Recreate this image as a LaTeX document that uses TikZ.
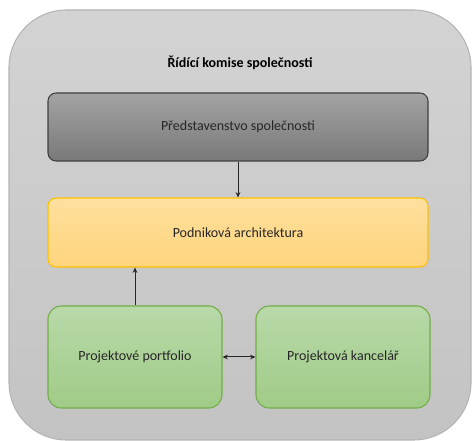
\documentclass[tikz,border=0pt]{standalone}
\usepackage{fontspec}
\setmainfont{Carlito}
\usetikzlibrary{arrows.meta,positioning}

\definecolor{outerFill}{HTML}{D3D3D3}
\definecolor{outerFillB}{HTML}{C3C3C3}
\definecolor{outerLine}{HTML}{B4B4B4}
\definecolor{boardTop}{HTML}{A3A3A3}
\definecolor{boardBot}{HTML}{797979}
\definecolor{boardLine}{HTML}{3F3F3F}
\definecolor{archTop}{HTML}{FFE09E}
\definecolor{archBot}{HTML}{FFD47C}
\definecolor{archLine}{HTML}{FFC000}
\definecolor{projTop}{HTML}{B9D9A9}
\definecolor{projBot}{HTML}{9FCB87}
\definecolor{projLine}{HTML}{70AD47}

\tikzset{
    box/.style={rounded corners=6pt, line width=0.8pt, align=center, font=\fontsize{10.5}{12}\selectfont, text=black!85},
    boardbox/.style={box, draw=boardLine, top color=boardTop, bottom color=boardBot, minimum width=285pt, minimum height=51pt},
    archbox/.style={box, draw=archLine, top color=archTop, bottom color=archBot, minimum width=285pt, minimum height=51.75pt},
    projbox/.style={box, draw=projLine, top color=projTop, bottom color=projBot, minimum width=130.5pt, minimum height=76.5pt, rounded corners=10pt},
    link/.style={line width=0.75pt, black!85}
}

\begin{document}
\begin{tikzpicture}[x=0.75pt,y=0.75pt,yscale=-1,xscale=1]
    \useasboundingbox (0,0) rectangle (472,441);

    %Outer frame
    \draw [draw=outerLine, line width=0.8pt, top color=outerFill, bottom color=outerFillB, rounded corners=43pt] (9,10) rectangle (471,440);

    % Text Node
    \node (komise) at (240,63) {\fontsize{10.5}{12}\selectfont\bfseries Řídící komise společnosti};

    \node [boardbox] (predstavenstvo) at (238,127) {Představenstvo společnosti};
    \node [archbox] (architektura) at (238,232.5) {Podniková architektura};
    \node [projbox] (portfolio) at (135,357) {Projektové portfolio};
    \node [projbox] (kancelar) at (343,357) {Projektová kancelář};

    %Connectors
    \draw [link, -{Stealth[length=4pt,width=3.5pt]}] (predstavenstvo) -- (architektura);
    \draw [link, -{Stealth[length=4pt,width=3.5pt]}] (portfolio.north) -- (portfolio.north |- architektura.south);
    \draw [link, {Stealth[length=4pt,width=3.5pt]}-{Stealth[length=4pt,width=3.5pt]}] (portfolio) -- (kancelar);

\end{tikzpicture}
\end{document}
